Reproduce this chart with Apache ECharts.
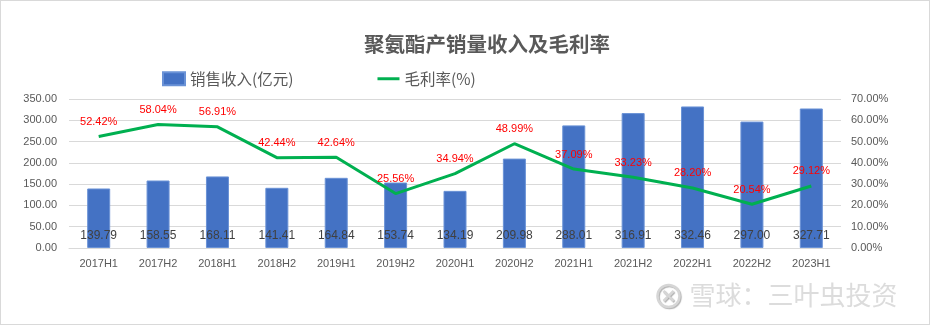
<!DOCTYPE html>
<html>
<head>
<meta charset="utf-8">
<script src="https://cdn.jsdelivr.net/npm/echarts@6/dist/echarts.min.js"></script>
<style>
  html, body { margin: 0; padding: 0; background: #fff; }
  #chart { width: 930px; height: 325px; box-sizing: border-box; border: 1px solid #d9d9d9; }
</style>
</head>
<body>
<div id="chart"></div>
<script>
// Polyurethane segment: half-year revenue (100M CNY) and gross margin (%)
const categories = ['2017H1','2017H2','2018H1','2018H2','2019H1','2019H2','2020H1','2020H2','2021H1','2021H2','2022H1','2022H2','2023H1'];
const revenue = [139.79, 158.55, 168.11, 141.41, 164.84, 153.74, 134.19, 209.98, 288.01, 316.91, 332.46, 297.00, 327.71];
const grossMargin = [52.42, 58.04, 56.91, 42.44, 42.64, 25.56, 34.94, 48.99, 37.09, 33.23, 28.20, 20.54, 29.12];

const titleText = '聚氨酯产销量收入及毛利率';
const revenueName = '销售收入(亿元)';
const marginName = '毛利率(%)';
const watermarkText = '雪球：三叶虫投资';

const numFont = '"Liberation Sans", "Noto Sans CJK SC", sans-serif';
const cjkFont = '"Noto Sans CJK SC", sans-serif';

const chart = echarts.init(document.getElementById('chart'), null, { renderer: 'canvas' });

chart.setOption({
  backgroundColor: '#ffffff',
  animation: false,
  title: {
    text: titleText,
    left: 358,
    top: 28,
    textStyle: { fontFamily: cjkFont, fontSize: 20.5, fontWeight: 'bold', color: '#595959' }
  },
  legend: {
    top: 65,
    left: 156,
    itemGap: 84,
    itemWidth: 22,
    itemHeight: 13,
    textStyle: { fontFamily: cjkFont, fontSize: 15.5, color: '#595959' },
    data: [
      { name: revenueName, icon: 'rect' },
      { name: marginName, icon: 'path://M0,0H26V3.5H0Z' }
    ]
  },
  grid: { left: 68, right: 88, top: 98, bottom: 76 },
  xAxis: {
    type: 'category',
    data: categories,
    axisLine: { lineStyle: { color: '#d9d9d9' } },
    axisTick: { show: false },
    axisLabel: { fontFamily: numFont, fontSize: 11, color: '#595959', margin: 10 }
  },
  yAxis: [
    {
      type: 'value',
      min: 0, max: 350, interval: 50,
      axisLine: { show: false },
      axisTick: { show: false },
      splitLine: { lineStyle: { color: '#d9d9d9', width: 1 } },
      axisLabel: {
        fontFamily: numFont, fontSize: 11, color: '#595959', margin: 12,
        formatter: v => v.toFixed(2)
      }
    },
    {
      type: 'value',
      min: 0, max: 70, interval: 10,
      axisLine: { show: false },
      axisTick: { show: false },
      splitLine: { show: false },
      axisLabel: {
        fontFamily: numFont, fontSize: 11, color: '#595959', margin: 10,
        formatter: v => v.toFixed(2) + '%'
      }
    }
  ],
  series: [
    {
      name: revenueName,
      type: 'bar',
      data: revenue,
      barWidth: 23,
      itemStyle: { color: '#4472C4', borderColor: '#6a92d6', borderWidth: 1 },
      label: {
        show: true,
        position: 'insideBottom',
        distance: 6,
        fontFamily: numFont,
        fontSize: 12,
        color: '#404040',
        formatter: p => p.value.toFixed(2)
      }
    },
    {
      name: marginName,
      type: 'line',
      yAxisIndex: 1,
      data: grossMargin,
      symbol: 'circle',
      symbolSize: 0.1,
      showSymbol: true,
      lineStyle: { color: '#00B050', width: 3 },
      itemStyle: { color: '#00B050' },
      label: {
        show: true,
        position: 'top',
        distance: 9,
        fontFamily: numFont,
        fontSize: 11,
        color: '#FF0000',
        formatter: p => p.value.toFixed(2) + '%'
      },
      labelLayout: { hideOverlap: false },
      z: 5
    }
  ],
  graphic: [
    {
      type: 'group',
      left: 654,
      top: 281,
      silent: true,
      children: [
        {
          type: 'circle',
          shape: { cx: 13, cy: 14, r: 11 },
          style: { fill: 'none', stroke: '#d6d6d6', lineWidth: 2.5, shadowColor: 'rgba(0,0,0,0.3)', shadowBlur: 1, shadowOffsetX: 1, shadowOffsetY: 1 }
        },
        {
          type: 'polyline',
          shape: { points: [[8, 9], [13, 14], [8, 19]] },
          style: { fill: 'none', stroke: '#d6d6d6', lineWidth: 2.5, shadowColor: 'rgba(0,0,0,0.3)', shadowBlur: 1, shadowOffsetX: 1, shadowOffsetY: 1 }
        },
        {
          type: 'polyline',
          shape: { points: [[18, 9], [13, 14], [18, 19]] },
          style: { fill: 'none', stroke: '#d6d6d6', lineWidth: 2.5, shadowColor: 'rgba(0,0,0,0.3)', shadowBlur: 1, shadowOffsetX: 1, shadowOffsetY: 1 }
        },
        {
          type: 'text',
          left: 34,
          top: 0,
          style: {
            text: watermarkText,
            font: '26px "Noto Sans CJK SC", sans-serif',
            fill: '#dcdcdc',
            shadowColor: 'rgba(0,0,0,0.3)',
            shadowBlur: 1,
            shadowOffsetX: 1,
            shadowOffsetY: 1
          }
        }
      ]
    }
  ]
});
</script>
</body>
</html>
